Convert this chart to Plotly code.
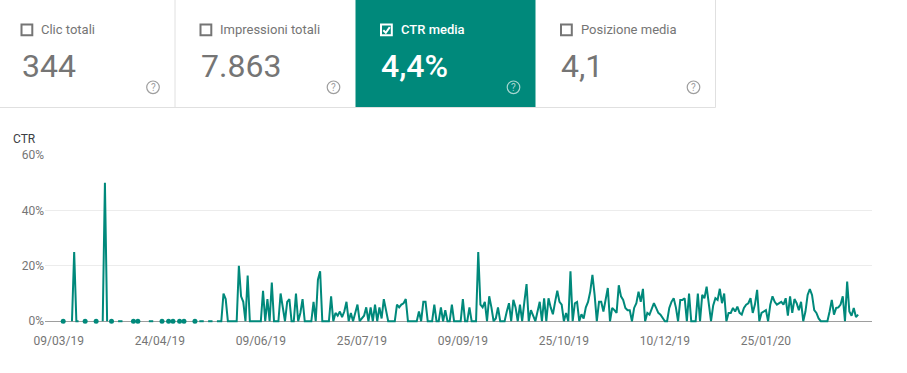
import plotly.graph_objects as go
import pandas as pd

# ---------------- data ----------------
start_date = "2019-03-11"
ctr_values = [
    0, None, None, None, 0, 25, 0, 0, None, None,
    0, None, None, None, None, 0, None, None, 0, 50,
    0, None, 0, None, None, 0, 0, 0, None, None,
    None, None, 0, None, 0, None, None, None, None, 0,
    0, 0, None, None, None, 0, None, None, 0, None,
    0, None, None, 0, None, 0, None, None, None, None,
    0, None, 0, 0, 0, None, 0, 0, 0, None,
    0, 0, 0, 10, 8, 0, 0, 0, 0, 0,
    20, 9, 7, 0, 16.5, 0, 0, 0, 0, 0,
    0, 11, 0, 8, 0, 14, 0, 0, 0, 10,
    5, 0, 7, 8, 0, 0, 10, 0, 3, 8,
    0, 0, 0, 0, 7, 0, 15, 18, 0, 0,
    0, 0, 9, 0, 3, 2, 3.5, 1.5, 3.5, 7,
    0, 3, 0, 3.5, 6, 0, 1, 2, 5, 0,
    5, 0, 6, 0, 5, 1, 8, 4.5, 0, 0,
    0, 0, 6, 5, 6, 6.5, 8, 0, 0, 0,
    0, 0, 3.5, 0, 7, 7, 0, 0, 0, 6,
    0, 0, 5, 0, 4, 0, 0, 6, 0, 0,
    0, 0, 8, 0, 0, 5, 0, 0, 0, 25,
    6, 5, 7, 0, 9, 5, 0, 1, 5, 0,
    0, 0, 3.5, 6.5, 0, 7.7, 5, 0, 6, 0,
    7, 13.4, 0, 4, 2, 0, 3.5, 7, 0, 8.3,
    0, 8.3, 5, 2.5, 7, 11, 7, 6, 0, 3,
    0, 18, 0, 6.5, 7, 0, 2.5, 1, 5, 7,
    10.7, 16.7, 9.5, 0, 7, 7, 3.5, 7.7, 12, 0,
    4.8, 4, 3, 13, 9, 7.7, 4.8, 4, 4, 0,
    4.8, 6.5, 10.7, 7, 11.7, 0, 3, 2.4, 4.8, 6.5,
    4.8, 3, 2.4, 1, 0, 0, 4.8, 7, 8.3, 5,
    0, 7.7, 7.7, 8.3, 0, 10, 0, 0, 0, 10,
    0, 9.5, 8.3, 12.5, 7, 0, 5.7, 8.3, 7.7, 11.7,
    6.5, 10, 0, 3, 3, 4.8, 3.5, 5.3, 3, 2.4,
    4.8, 6, 6.5, 8.3, 3, 6, 11.3, 0, 3, 3.5,
    4, 0, 6, 9, 7, 6, 6.5, 7, 6, 8.3,
    2, 9, 3, 8, 6.5, 4, 7, 0, 3.5, 9.5,
    11.6, 9.5, 4, 3, 1, 0, 0, 0, 0, 3.5,
    7.7, 2.4, 4.8, 5, 6, 9, 0, 14.3, 3.5, 2,
    4.8, 1.5, 2.4,
]
dates = pd.date_range(start_date, periods=len(ctr_values), freq="D")

tick_dates = ["2019-03-09", "2019-04-24", "2019-06-09", "2019-07-25",
              "2019-09-09", "2019-10-25", "2019-12-10", "2020-01-25"]
tick_labels = ["09/03/19", "24/04/19", "09/06/19", "25/07/19",
               "09/09/19", "25/10/19", "10/12/19", "25/01/20"]
y_ticks = [0, 20, 40, 60]
y_tick_labels = ["0%", "20%", "40%", "60%"]

card_labels = ["Clic totali", "Impressioni totali", "CTR media", "Posizione media"]
card_values = ["344", "7.863", "4,4%", "4,1"]
selected_card = 2
axis_title = "CTR"

# ---------------- styling / geometry ----------------
TEAL = "#00897b"
GRAY_TXT = "#757575"
W, H = 907, 373
L, R, T, B = 45, 35, 155, 49
PW = W - L - R
PH = H - T - B


def px(x):
    return (x - L) / PW


def py(y):
    return (H - B - y) / PH


# isolated points (no neighbours) get a dot
iso_y = []
n = len(ctr_values)
for i, v in enumerate(ctr_values):
    prev_none = i == 0 or ctr_values[i - 1] is None
    next_none = i == n - 1 or ctr_values[i + 1] is None
    iso_y.append(v if (v is not None and prev_none and next_none) else None)

fig = go.Figure()
fig.add_trace(go.Scatter(
    x=dates, y=ctr_values, mode="lines", connectgaps=False,
    line=dict(color=TEAL, width=2), hoverinfo="skip", showlegend=False,
))
fig.add_trace(go.Scatter(
    x=dates, y=iso_y, mode="markers",
    marker=dict(color=TEAL, size=5), hoverinfo="skip", showlegend=False,
))

base = pd.Timestamp("2019-03-09")
x0 = base + pd.Timedelta(days=(L - 58.8) / 2.196)
x1 = base + pd.Timedelta(days=(W - R - 58.8) / 2.196)

shapes = []
annotations = []

card_x = [(0, 175), (175, 355.5), (355.5, 535.5), (535.5, 715.5)]
# selected card background
sx0, sx1 = card_x[selected_card]
shapes.append(dict(type="rect", xref="paper", yref="paper",
                   x0=px(sx0), x1=px(sx1), y0=py(107), y1=py(0),
                   fillcolor=TEAL, line=dict(width=0), layer="below"))
# borders
border = "#e0e0e0"
for xb in (175, 715.5):
    shapes.append(dict(type="line", xref="paper", yref="paper",
                       x0=px(xb), x1=px(xb), y0=py(0), y1=py(107.5),
                       line=dict(color=border, width=1)))
shapes.append(dict(type="line", xref="paper", yref="paper",
                   x0=px(0), x1=px(715.5), y0=py(107.5), y1=py(107.5),
                   line=dict(color=border, width=1)))

for k, (cx0, cx1) in enumerate(card_x):
    sel = k == selected_card
    off = cx0 + 21.5 if k == 0 else cx0 + 25.5
    fg = "white" if sel else GRAY_TXT
    # checkbox
    shapes.append(dict(type="rect", xref="paper", yref="paper",
                       x0=px(off), x1=px(off + 10.8), y0=py(35.3), y1=py(24.5),
                       line=dict(color=fg, width=2), fillcolor="rgba(0,0,0,0)"))
    if sel:
        path = "M {} {} L {} {} L {} {}".format(
            px(off + 2.3), py(30.3), px(off + 4.8), py(32.8), px(off + 8.8), py(27.2))
        shapes.append(dict(type="path", xref="paper", yref="paper", path=path,
                           line=dict(color="white", width=2)))
    # label
    annotations.append(dict(xref="paper", yref="paper", x=px(off + 17.5), y=py(29.8),
                            xanchor="left", yanchor="middle", showarrow=False,
                            text=card_labels[k],
                            font=dict(family="Roboto", size=13, color=fg,
                                      weight=500 if sel else 400)))
    # value
    annotations.append(dict(xref="paper", yref="paper", x=px(off - 2), y=py(65.5),
                            xanchor="left", yanchor="middle", showarrow=False,
                            text=card_values[k],
                            font=dict(family="Roboto", size=32, color=fg,
                                      weight=500 if sel else 400)))
    # help icon
    hx = cx1 - 22
    hy = 87.3
    ic = "rgba(255,255,255,0.65)" if sel else "#9e9e9e"
    shapes.append(dict(type="circle", xref="paper", yref="paper",
                       x0=px(hx - 6.3), x1=px(hx + 6.3), y0=py(hy + 6.3), y1=py(hy - 6.3),
                       line=dict(color=ic, width=1.2)))
    annotations.append(dict(xref="paper", yref="paper", x=px(hx), y=py(hy + 0.3),
                            xanchor="center", yanchor="middle", showarrow=False,
                            text="?", font=dict(family="Roboto", size=10, color=ic)))

annotations.append(dict(xref="paper", yref="paper", x=px(11), y=py(139),
                        xanchor="left", yanchor="middle", showarrow=False,
                        text=axis_title,
                        font=dict(family="Roboto", size=12, color="#3c4043")))

fig.update_layout(
    width=W, height=H,
    margin=dict(l=L, r=R, t=T, b=B, pad=0),
    paper_bgcolor="white", plot_bgcolor="white",
    font=dict(family="Roboto", size=12, color=GRAY_TXT),
    shapes=shapes, annotations=annotations,
    showlegend=False,
    xaxis=dict(
        range=[x0, x1], tickvals=tick_dates, ticktext=tick_labels,
        showgrid=False, zeroline=False, showline=False,
        ticks="outside", ticklen=6, tickcolor="rgba(0,0,0,0)",
        tickfont=dict(family="Roboto", size=12, color=GRAY_TXT),
        fixedrange=True,
    ),
    yaxis=dict(
        range=[-1, 60], tickvals=y_ticks, ticktext=y_tick_labels,
        showgrid=True, gridcolor="#ececec", gridwidth=1,
        zeroline=True, zerolinecolor="#9e9e9e", zerolinewidth=1,
        showline=False, ticks="",
        tickfont=dict(family="Roboto", size=12, color=GRAY_TXT),
        fixedrange=True,
    ),
)

fig.write_html("out.html", config={"displayModeBar": False},
               post_script="document.body.style.margin='0';document.body.style.overflow='hidden';")
